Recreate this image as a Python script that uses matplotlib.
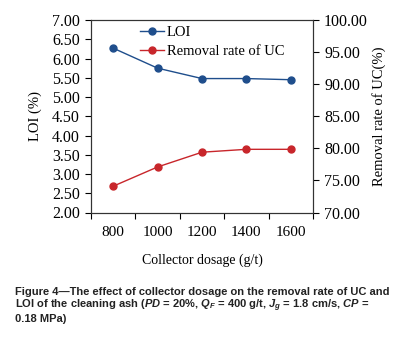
import matplotlib
matplotlib.use("Agg")
import matplotlib.pyplot as plt
from matplotlib.lines import Line2D

plt.rcParams['font.family'] = ['Liberation Serif', 'DejaVu Serif']
plt.rcParams['mathtext.fontset'] = 'custom'
plt.rcParams['mathtext.rm'] = 'Liberation Sans:bold'
plt.rcParams['mathtext.it'] = 'Liberation Sans:bold:italic'
plt.rcParams['mathtext.bf'] = 'Liberation Sans:bold'

categories = ['800', '1000', '1200', '1400', '1600']
loi = [6.27, 5.75, 5.48, 5.48, 5.45]
removal = [74.1, 77.1, 79.4, 79.85, 79.85]
left_ticks = [2.0, 2.5, 3.0, 3.5, 4.0, 4.5, 5.0, 5.5, 6.0, 6.5, 7.0]
right_ticks = [70, 75, 80, 85, 90, 95, 100]

blue = '#1F4E8C'
red = '#C8262B'

fig = plt.figure(figsize=(4.0, 3.4), dpi=100)
ax = fig.add_axes([0.2275, 0.375, 0.555, 0.566])
ax2 = ax.twinx()

x = list(range(len(categories)))
ax.plot(x, loi, color=blue, marker='o', markersize=5, linewidth=1.0)
ax2.plot(x, removal, color=red, marker='o', markersize=5, linewidth=1.0)

ax.set_xlim(-0.5, len(categories) - 0.5)
ax.set_xticks([i - 0.5 for i in range(len(categories) + 1)])
ax.set_xticklabels([])
ax.set_xticks(x, minor=True)
ax.set_xticklabels(categories, minor=True)
ax.tick_params(axis='x', which='minor', length=0, pad=10, labelsize=11)
ax.tick_params(axis='x', which='major', direction='out', length=4, width=0.8)

ax.set_ylim(2.0, 7.0)
ax.set_yticks(left_ticks)
ax.set_yticklabels([f'{v:.2f}' for v in left_ticks])
ax.tick_params(axis='y', direction='out', length=4, width=0.8, labelsize=11.5, pad=4)

ax2.set_ylim(70, 100)
ax2.set_yticks(right_ticks)
ax2.set_yticklabels([f'{v:.2f}' for v in right_ticks])
ax2.tick_params(axis='y', direction='out', length=4, width=0.8, labelsize=11.5, pad=4)

for a in (ax, ax2):
    for s in a.spines.values():
        s.set_linewidth(0.8)
        s.set_color('#333333')

ax.set_ylabel('LOI (%)', fontsize=10.5, labelpad=7)
ax2.set_ylabel('Removal rate of UC(%)', fontsize=10.5, labelpad=3)
ax.set_xlabel('Collector dosage (g/t)', fontsize=10, labelpad=10)

handles = [Line2D([], [], color=blue, marker='o', markersize=5, linewidth=1.0),
           Line2D([], [], color=red, marker='o', markersize=5, linewidth=1.0)]
ax.legend(handles, ['LOI', 'Removal rate of UC'], loc='upper left',
          bbox_to_anchor=(0.16, 1.04), frameon=False, fontsize=10.5,
          handlelength=1.7, handletextpad=0.15, labelspacing=0.45)

cap = [
    'Figure 4\u2014The effect of collector dosage on the removal rate of UC and',
    r'LOI of the cleaning ash ($PD$ = 20%, $Q_F$ = 400 g/t, $J_g$ = 1.8 cm/s, $CP$ =',
    '0.18 MPa)',
]
fig.text(15 / 400, 1 - 287 / 340, '\n'.join(cap), fontsize=8.0,
         fontweight='bold', family=['Liberation Sans', 'DejaVu Sans'],
         va='top', ha='left', color='#222222', linespacing=1.05)

fig.savefig('out.png', dpi=100)
